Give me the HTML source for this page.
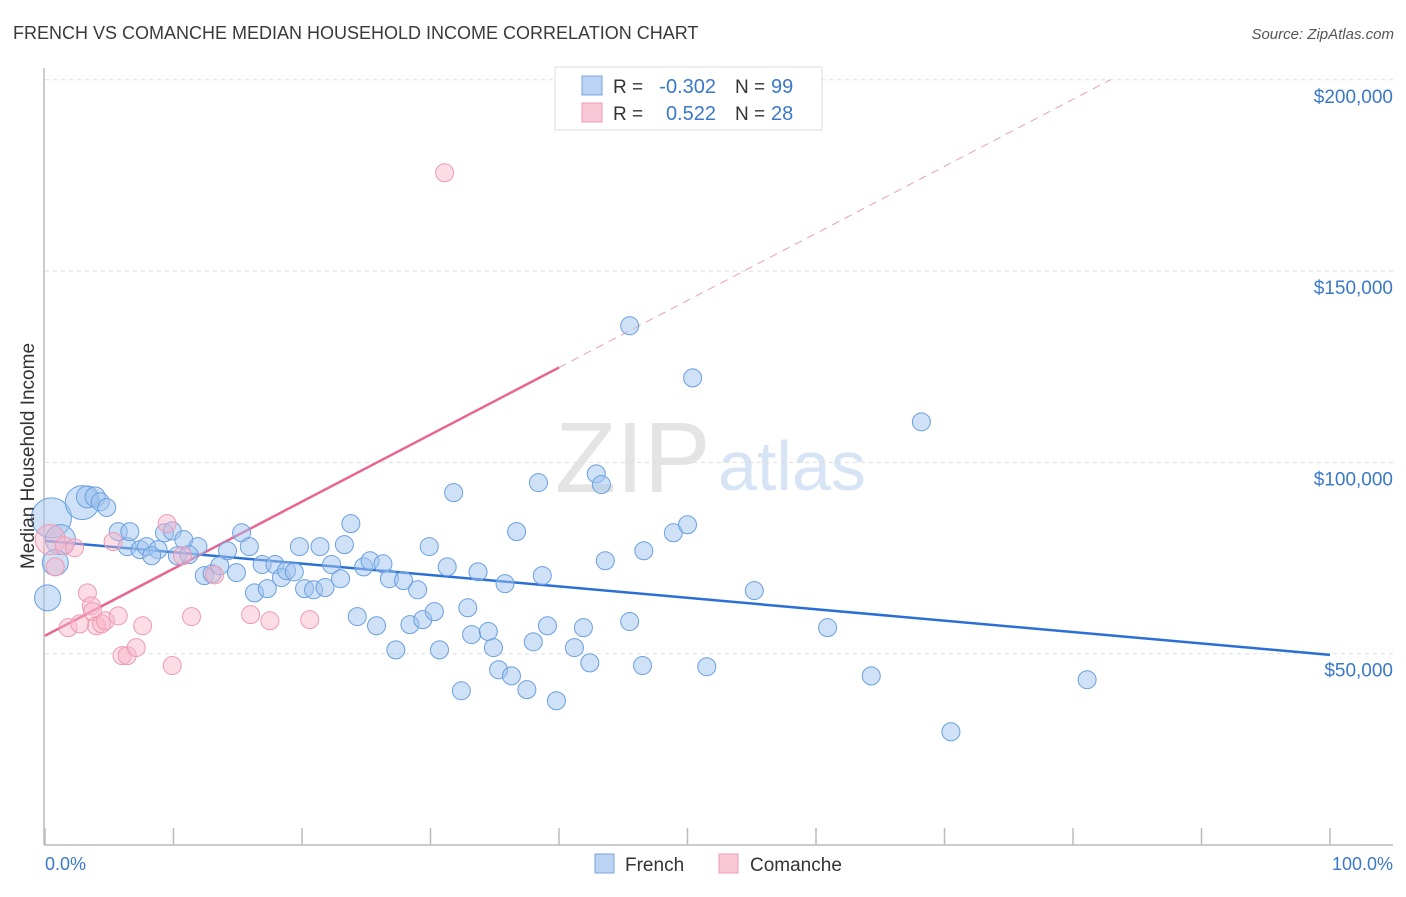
<!DOCTYPE html>
<html><head><meta charset="utf-8"><style>
body{margin:0;background:#fff;font-family:"Liberation Sans",sans-serif}
svg text{font-family:"Liberation Sans",sans-serif}
</style></head><body>
<svg id="chart" width="1406" height="892" viewBox="0 0 1406 892">
<text x="13" y="39" font-size="18" fill="#3a3a3a">FRENCH VS COMANCHE MEDIAN HOUSEHOLD INCOME CORRELATION CHART</text>
<text x="1394" y="39" font-size="15" fill="#555" font-style="italic" text-anchor="end">Source: ZipAtlas.com</text>
<g>
<text x="555" y="492" font-size="100" fill="#e4e4e4" font-family="Liberation Serif">ZIP</text>
<text x="718" y="490" font-size="70" fill="#d6e4f5">atlas</text>
</g>
<g id="grid"></g><g id="axes"></g><g id="lines"></g><g id="pts"></g>
<text transform="translate(34,456) rotate(-90)" font-size="19" fill="#333" text-anchor="middle">Median Household Income</text>
<text x="45" y="870" font-size="18" fill="#3a78c9">0.0%</text>
<text x="1393" y="870" font-size="18" fill="#3a78c9" text-anchor="end">100.0%</text>
<g>
<rect x="555" y="67" width="267" height="63" fill="#fff" stroke="#ddd"/>
<rect x="582" y="76" width="20" height="19" fill="#bcd4f3" stroke="#7aa5de"/>
<rect x="582" y="103" width="20" height="19" fill="#f9c8d6" stroke="#ee9ab2"/>
<text x="613" y="93" font-size="19" fill="#333">R =</text>
<text x="716" y="93" font-size="20" fill="#3a78c9" text-anchor="end">-0.302</text>
<text x="735" y="93" font-size="19" fill="#333">N =</text>
<text x="771" y="93" font-size="20" fill="#3a78c9">99</text>
<text x="613" y="120" font-size="19" fill="#333">R =</text>
<text x="716" y="120" font-size="20" fill="#3a78c9" text-anchor="end">0.522</text>
<text x="735" y="120" font-size="19" fill="#333">N =</text>
<text x="771" y="120" font-size="20" fill="#3a78c9">28</text>
</g>
<g>
<rect x="595" y="854" width="19" height="19" fill="#bcd4f3" stroke="#7aa5de"/>
<text x="625" y="871" font-size="19" fill="#333">French</text>
<rect x="719" y="854" width="19" height="19" fill="#f9c8d6" stroke="#ee9ab2"/>
<text x="750" y="871" font-size="19" fill="#333">Comanche</text>
</g>
</svg>
<script>
const yTicks=[50000,100000,150000,200000];
const yTickLabels=["$50,000","$100,000","$150,000","$200,000"];
const xTicks=[0,10,20,30,40,50,60,70,80,90,100];
const frenchX=[0.5,2.9,1.2,0.8,0.2,3.3,3.9,4.3,4.8,6.4,7.4,7.9,8.8,8.3,5.7,6.6,9.3,9.9,10.8,11.9,10.3,11.2,12.4,13.0,13.6,14.2,14.9,15.3,15.9,16.3,16.9,17.3,17.9,18.4,18.8,19.4,19.8,20.2,20.9,21.4,21.8,22.3,23.0,23.3,23.8,24.3,24.8,25.3,25.8,26.3,26.8,27.3,27.9,28.4,29.0,29.4,29.9,30.3,30.7,31.3,31.8,32.4,32.9,33.2,33.7,34.5,34.9,35.3,35.8,36.3,36.7,37.5,38.0,38.4,38.7,39.1,39.8,41.2,41.9,42.4,42.9,43.3,43.6,45.5,45.5,46.5,46.6,48.9,50.0,50.4,51.5,55.2,60.9,64.3,68.2,70.5,81.1];
const frenchY=[85.5,89.5,79.8,73.8,64.6,91.0,91.0,89.7,88.2,78.0,77.2,78.0,77.2,75.6,81.9,81.9,81.6,82.1,79.8,78.0,75.6,75.9,70.4,70.9,73.0,76.9,71.2,81.6,78.0,65.9,73.3,67.0,73.3,69.9,71.7,71.4,78.0,67.0,66.7,78.0,67.3,73.3,69.6,78.5,84.0,59.7,72.7,74.3,57.3,73.5,69.6,51.0,69.1,57.6,66.7,58.9,78.0,61.0,51.0,72.7,92.1,40.3,62.0,55.0,71.4,55.8,51.6,45.8,68.3,44.2,81.9,40.6,53.1,94.7,70.4,57.3,37.7,51.6,56.8,47.6,97.0,94.2,74.3,58.4,135.7,46.9,76.9,81.6,83.7,122.1,46.6,66.5,56.8,44.2,110.6,29.6,43.2];
const frenchSize=[20,17,15,13,13,11,10,9,9];
const comancheX=[0.4,0.8,1.5,2.3,3.3,3.6,3.7,4.0,1.8,2.7,4.4,4.7,5.7,5.3,6.0,6.4,7.1,7.6,9.5,9.9,10.7,11.4,13.2,16.0,17.5,20.6,31.1];
const comancheY=[79.8,72.7,78.2,77.7,65.9,62.5,61.0,57.3,56.8,57.8,57.8,58.6,59.9,79.3,49.5,49.5,51.6,57.3,84.0,46.9,75.6,59.7,70.6,60.2,58.6,58.9,175.7];
const comancheSize=[15];
const frenchTrend=[79.5,49.7];
const comancheTrend=[54.7,124.8];
const NS="http://www.w3.org/2000/svg";
const X=p=>45+p*12.85, Y=k=>845-k*3.826;
function mk(tag,attrs,parent){const e=document.createElementNS(NS,tag);for(const k in attrs)e.setAttribute(k,attrs[k]);document.getElementById(parent).appendChild(e);return e;}
yTicks.forEach((v,i)=>{
 const y=Y(v/1000);
 const g=mk('line',{x1:45,x2:1393,y1:y,y2:y,stroke:'#ddd','stroke-dasharray':'4,4'},'grid');
 
 
 const t=mk('text',{x:1393,y:y+23,'font-size':19,fill:'#3a78c9','text-anchor':'end'},'grid');
 t.textContent=yTickLabels[i];
 
 
});
const ax=mk('line',{x1:44,x2:44,y1:68,y2:845,stroke:'#bbb','stroke-width':1.5},'axes');


const bx=mk('line',{x1:44,x2:1393,y1:845,y2:845,stroke:'#bbb','stroke-width':1.5},'axes');


xTicks.forEach(p=>{const t=mk('line',{x1:X(p),x2:X(p),y1:828,y2:845,stroke:'#bbb','stroke-width':1.5},'axes');
 
 });
function pts(xs,ys,sizes,fill,stroke,name){
 xs.forEach((p,i)=>{const r=sizes[i]||9;
  const c=mk('circle',{cx:X(p),cy:Y(ys[i]),r:r,fill:fill,stroke:stroke,'stroke-width':1},'pts');
  
  });
}
pts(frenchX,frenchY,frenchSize,'rgba(160,196,238,0.5)','#6a9fe0','french-point');
pts(comancheX,comancheY,comancheSize,'rgba(248,180,200,0.45)','#ee9ab2','comanche-point');
const bl=mk('line',{x1:X(0),y1:Y(frenchTrend[0]),x2:X(100),y2:Y(frenchTrend[1]),stroke:'#2a6fd6','stroke-width':2.5},'lines');


const slope=(comancheTrend[1]-comancheTrend[0])/40;
const pl=mk('line',{x1:X(0),y1:Y(comancheTrend[0]),x2:X(40),y2:Y(comancheTrend[1]),stroke:'#e8658f','stroke-width':2.5},'lines');


const pEnd=(200-comancheTrend[0])/slope;
const pd=mk('line',{x1:X(40),y1:Y(comancheTrend[1]),x2:X(pEnd),y2:Y(200),stroke:'#e8a0b6','stroke-width':1,'stroke-dasharray':'8,6'},'lines');


</script>
</body></html>
